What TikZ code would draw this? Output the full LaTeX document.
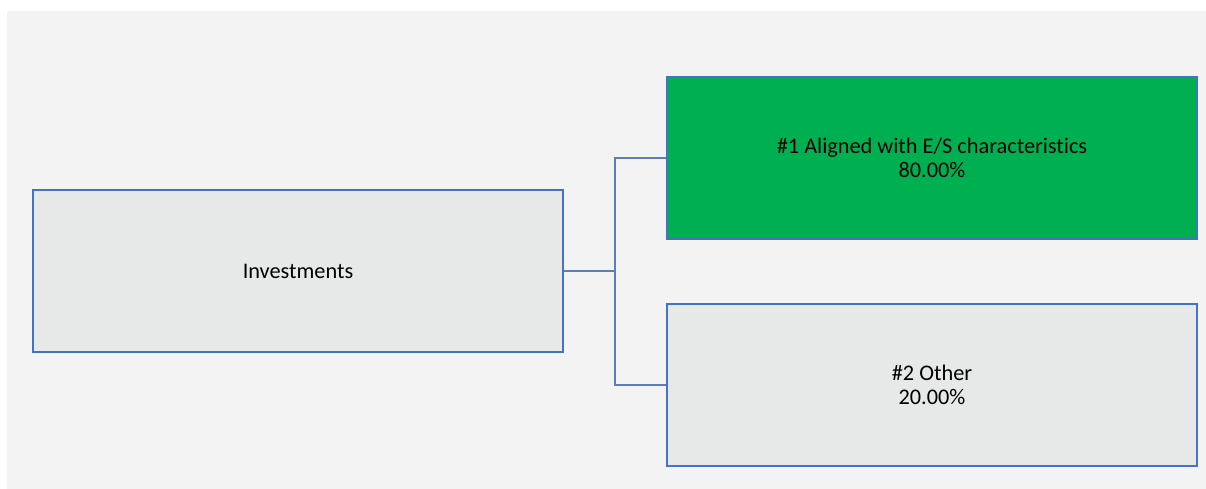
\documentclass[tikz,border=0pt]{standalone}
\usepackage{fontspec}
\setmainfont{Carlito}[Ligatures=NoCommon]
\usetikzlibrary{positioning}
\definecolor{BoxBlue}{HTML}{4472C4}
\definecolor{LinkBlue}{HTML}{5A7FB9}
\definecolor{BoxGrey}{HTML}{E7E9E8}
\definecolor{BoxGreen}{HTML}{00B050}
\definecolor{PageGrey}{HTML}{F3F3F3}
\newcommand\BoxWidth{530pt}
\newcommand\BoxHeight{162pt}
\tikzstyle{block}=[rectangle,draw=BoxBlue,line width=2.4pt,align=center,inner sep=0pt,
                     minimum width=\BoxWidth,minimum height=\BoxHeight,
                     font=\fontsize{22.3}{24.5}\selectfont]
\tikzstyle{link}=[draw=LinkBlue,line width=2.4pt]

\begin{document}
\begin{tikzpicture}[x=1pt,y=-1pt]
      \useasboundingbox (0,0) rectangle (1206,489);
      \fill[PageGrey] (7,11) rectangle (1206,489);
      \node[block,fill=BoxGrey] (invest) at (298,271) {Investments};
      \node[block,fill=BoxGreen] (aligned) at (932,158) {\#1 Aligned with E/S characteristics\\80.00\%};
      \node[block,fill=BoxGrey] (other) at (932,385) {\#2 Other\\20.00\%};
      \coordinate (split) at (615,271);
      \draw[link] (invest.east) -- (split);
      \draw[link] (split) |- (aligned.west);
      \draw[link] (split) |- (other.west);
   \end{tikzpicture}
\end{document}
